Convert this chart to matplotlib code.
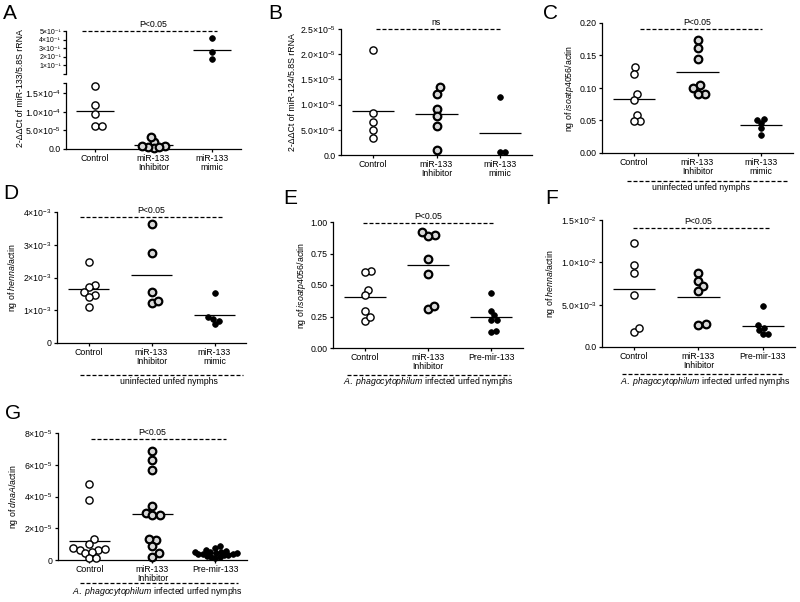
import numpy as np
import matplotlib.pyplot as plt
from matplotlib.lines import Line2D

plt.rcParams['font.family'] = ['Liberation Sans', 'DejaVu Sans']
plt.rcParams['mathtext.fontset'] = 'custom'
plt.rcParams['mathtext.rm'] = 'Liberation Sans'
plt.rcParams['mathtext.it'] = 'Liberation Sans:italic'
plt.rcParams['mathtext.bf'] = 'Liberation Sans:bold'

# =========================
# DATA
# =========================
groups_mimic = ["Control", "miR-133\nInhibitor", "miR-133\nmimic"]
groups_pre = ["Control", "miR-133\nInhibitor", "Pre-mir-133"]

a_control = [1.68e-4, 1.18e-4, 0.94e-4, 0.61e-4, 0.63e-4]
a_inhib = [1.8e-5, 3.1e-5, 0.8e-5, 0.2e-5, 0.6e-5, 0.6e-5, 0.9e-5]
a_mimic = [0.42, 0.255, 0.17]
a_low_ticks = [0, 5e-5, 1e-4, 1.5e-4]
a_low_labels = ["0.0", "5.0×10$^{-5}$", "1.0×10$^{-4}$", "1.5×10$^{-4}$"]
a_up_ticks = [0.1, 0.2, 0.3, 0.4, 0.5]
a_up_labels = ["1×10⁻¹", "2×10⁻¹", "3×10⁻¹", "4×10⁻¹", "5×10⁻¹"]

b_control = [2.08e-5, 0.83e-5, 0.65e-5, 0.50e-5, 0.34e-5]
b_inhib = [1.22e-5, 1.34e-5, 0.92e-5, 0.77e-5, 0.58e-5, 0.10e-5]
b_mimic = [1.16e-5, 0.065e-5, 0.065e-5]
b_ticks = [0, 0.5e-5, 1.0e-5, 1.5e-5, 2.0e-5, 2.5e-5]
b_labels = ["0.0", "5.0×10$^{-6}$", "1.0×10$^{-5}$", "1.5×10$^{-5}$",
            "2.0×10$^{-5}$", "2.5×10$^{-5}$"]

c_control = [0.132, 0.122, 0.091, 0.082, 0.058, 0.049, 0.049]
c_inhib = [0.174, 0.162, 0.145, 0.105, 0.100, 0.091, 0.091]
c_mimic = [0.051, 0.053, 0.046, 0.038, 0.027]
c_ticks = [0, 0.05, 0.10, 0.15, 0.20]
c_labels = ["0.00", "0.05", "0.10", "0.15", "0.20"]

d_control = [2.48e-3, 1.77e-3, 1.72e-3, 1.47e-3, 1.55e-3, 1.39e-3, 1.11e-3]
d_inhib = [3.62e-3, 2.74e-3, 1.55e-3, 1.22e-3, 1.29e-3]
d_mimic = [1.54e-3, 0.73e-3, 0.58e-3, 0.68e-3, 0.78e-3]
d_ticks = [0, 1e-3, 2e-3, 3e-3, 4e-3]
d_labels = ["0", "1×10$^{-3}$", "2×10$^{-3}$", "3×10$^{-3}$", "4×10$^{-3}$"]

e_control = [0.608, 0.603, 0.463, 0.418, 0.296, 0.212, 0.246]
e_inhib = [0.894, 0.889, 0.921, 0.704, 0.590, 0.307, 0.333]
e_pre = [0.439, 0.294, 0.259, 0.222, 0.222, 0.127, 0.132]
e_ticks = [0, 0.25, 0.5, 0.75, 1.0]
e_labels = ["0.00", "0.25", "0.50", "0.75", "1.00"]

f_control = [1.224e-2, 0.967e-2, 0.876e-2, 0.612e-2, 0.178e-2, 0.225e-2]
f_inhib = [0.876e-2, 0.778e-2, 0.722e-2, 0.659e-2, 0.264e-2, 0.272e-2]
f_pre = [0.482e-2, 0.257e-2, 0.197e-2, 0.225e-2, 0.150e-2, 0.150e-2]
f_ticks = [0, 0.5e-2, 1.0e-2, 1.5e-2]
f_labels = ["0.0", "5.0×10$^{-3}$", "1.0×10$^{-2}$", "1.5×10$^{-2}$"]

g_control = [4.8e-5, 3.75e-5, 1.31e-5, 0.76e-5, 0.63e-5, 0.63e-5, 0.69e-5,
             1.03e-5, 0.42e-5, 0.52e-5, 0.1e-5, 0.1e-5]
g_inhib = [6.88e-5, 6.32e-5, 5.68e-5, 3.41e-5, 2.95e-5, 2.84e-5, 2.84e-5,
           1.26e-5, 1.31e-5, 0.88e-5, 0.42e-5, 0.21e-5]
g_pre = [0.88e-5, 0.78e-5, 0.6e-5, 0.55e-5, 0.52e-5, 0.5e-5, 0.48e-5, 0.45e-5,
         0.42e-5, 0.4e-5, 0.38e-5, 0.35e-5, 0.32e-5, 0.3e-5, 0.25e-5, 0.22e-5,
         0.2e-5, 0.15e-5]
g_ticks = [0, 2e-5, 4e-5, 6e-5, 8e-5]
g_labels = ["0", "2×10$^{-5}$", "4×10$^{-5}$", "6×10$^{-5}$", "8×10$^{-5}$"]

# =========================
# HELPERS
# =========================
W, H = 800, 602
FS = 6.3
fig = plt.figure(figsize=(8, 6.02), dpi=100)

MARK = {
    "open": dict(s=27, facecolor="white", edgecolor="black", linewidths=1.0, d=6.6),
    "grey": dict(s=30, facecolor="#d8d8d8", edgecolor="black", linewidths=1.6, d=7.2),
    "fill": dict(s=17, facecolor="black", edgecolor="black", linewidths=0.5, d=5.2),
}


def px_axes(l, t, r, b):
    return fig.add_axes([l / W, 1 - b / H, (r - l) / W, (b - t) / H])


def style(ax, ylim, ticks, labels):
    for s in ("top", "right"):
        ax.spines[s].set_visible(False)
    ax.spines["left"].set_linewidth(0.9)
    ax.spines["bottom"].set_linewidth(0.9)
    ax.tick_params(length=2.5, width=0.9, labelsize=FS, pad=1.2)
    ax.set_xlim(-0.5, 2.5)
    ax.set_ylim(*ylim)
    ax.set_yticks(ticks, labels)


def swarm(ax, values, d):
    pts = ax.transData.transform(np.column_stack([np.zeros(len(values)), values]))
    ys = pts[:, 1]
    x0, x1 = ax.transData.transform([[0, 0], [1, 0]])[:, 0]
    unit = x1 - x0
    offs = np.zeros(len(values))
    placed = []
    for i in np.argsort(ys):
        cands = [0.0]
        for j in placed:
            dy = ys[i] - ys[j]
            if abs(dy) < d:
                dx = np.sqrt(d * d - dy * dy)
                cands += [offs[j] + dx, offs[j] - dx]
        cands.sort(key=lambda c: (round(abs(c), 6), -c))
        for c in cands:
            ok = True
            for j in placed:
                if (c - offs[j]) ** 2 + (ys[i] - ys[j]) ** 2 < d * d - 1e-6:
                    ok = False
                    break
            if ok:
                offs[i] = c
                break
        placed.append(i)
    return offs / unit


def column(ax, i, values, kind, d=None):
    st = MARK[kind]
    offs = swarm(ax, values, d or st["d"])
    ax.scatter(i + offs, values, s=st["s"], facecolor=st["facecolor"],
               edgecolor=st["edgecolor"], linewidths=st["linewidths"],
               zorder=3, clip_on=False)
    m = np.mean(values)
    ax.plot([i - 0.33, i + 0.33], [m, m], color="black", lw=0.9, zorder=2,
            solid_capstyle="butt")


def set_groups(ax, groups):
    ax.set_xticks([0, 1, 2], groups)
    for t in ax.get_xticklabels():
        t.set_linespacing(1.0)


def signif(ax, x0, x1, y, txt):
    ax.plot([x0, x1], [y, y], color="black", lw=0.9, dashes=(3.2, 1.6),
            clip_on=False)
    ax.annotate(txt, (1, y), xytext=(0, 1.5), textcoords="offset points",
                ha="center", va="bottom", fontsize=FS)


def group_note(x0, x1, y, tx, txt, gap=7):
    fig.add_artist(Line2D([x0 / W, x1 / W], [1 - y / H, 1 - y / H],
                          transform=fig.transFigure, color="black", lw=0.9,
                          dashes=(3.2, 1.6)))
    fig.text(tx / W, 1 - (y + gap) / H, txt, ha="center", va="center", fontsize=FS)


def letter(x, y, s):
    fig.text(x / W, 1 - y / H, s, ha="left", va="top", fontsize=15)


INF = r"$\it{A.\ phagocytophilum}$ infected unfed nymphs"

# =========================
# A (eje partido)
# =========================
ax_up = px_axes(66, 31, 241, 74)
style(ax_up, (0, 0.5), a_up_ticks + [0], a_up_labels + [""])
ax_up.tick_params(axis="y", labelsize=5.0, pad=1.0)
ax_up.spines["bottom"].set_visible(False)
ax_up.set_xticks([])
ax_lo = px_axes(66, 83, 241, 149)
style(ax_lo, (0, 1.77e-4), a_low_ticks + [1.77e-4], a_low_labels + [""])
set_groups(ax_lo, groups_mimic)
column(ax_lo, 0, a_control, "open")
column(ax_lo, 1, a_inhib, "grey", d=6.0)
column(ax_up, 2, a_mimic, "fill")
signif(ax_up, -0.23, 2.09, 0.5, "P<0.05")
fig.text(21 / W, 1 - 88 / H, "2-ΔΔCt of miR-133/5.8S rRNA", rotation=90,
         ha="center", va="center", fontsize=FS)
letter(3, 4, "A")

# =========================
# B
# =========================
ax = px_axes(341, 29, 532, 155)
style(ax, (0, 2.5e-5), b_ticks, b_labels)
set_groups(ax, groups_mimic)
column(ax, 0, b_control, "open")
column(ax, 1, b_inhib, "grey")
column(ax, 2, b_mimic, "fill")
signif(ax, 0.05, 2.01, 2.5e-5, "ns")
ax.set_ylabel("2-ΔΔCt of miR-124/5.8S rRNA", fontsize=FS, labelpad=2)
letter(268, 4, "B")

# =========================
# C
# =========================
ax = px_axes(602, 23, 793, 153)
style(ax, (0, 0.2), c_ticks, c_labels)
set_groups(ax, groups_mimic)
column(ax, 0, c_control, "open")
column(ax, 1, c_inhib, "grey")
column(ax, 2, c_mimic, "fill")
signif(ax, 0.1, 2.01, 0.19, "P<0.05")
ax.set_ylabel(r"ng of $\it{isoatp4056}$/actin", fontsize=FS, labelpad=3)
group_note(627, 788, 181, 701, "uninfected unfed nymphs")
letter(543, 4, "C")

# =========================
# D
# =========================
ax = px_axes(57, 212, 246, 343)
style(ax, (0, 4e-3), d_ticks, d_labels)
set_groups(ax, groups_mimic)
column(ax, 0, d_control, "open")
column(ax, 1, d_inhib, "grey")
column(ax, 2, d_mimic, "fill")
signif(ax, -0.13, 2.13, 3.85e-3, "P<0.05")
ax.set_ylabel(r"ng of $\it{henna}$/actin", fontsize=FS, labelpad=3)
group_note(80, 243, 375, 169, "uninfected unfed nymphs")
letter(3, 184, "D")

# =========================
# E
# =========================
ax = px_axes(333, 222, 523, 348)
style(ax, (0, 1.0), e_ticks, e_labels)
set_groups(ax, groups_pre)
column(ax, 0, e_control, "open")
column(ax, 1, e_inhib, "grey")
column(ax, 2, e_pre, "fill")
signif(ax, -0.03, 2.02, 0.995, "P<0.05")
ax.set_ylabel(r"ng of $\it{isoatp4056}$/actin", fontsize=FS, labelpad=2)
group_note(347, 510, 375, 428, INF)
letter(283, 189, "E")

# =========================
# F
# =========================
ax = px_axes(602, 220, 795, 347)
style(ax, (0, 1.5e-2), f_ticks, f_labels)
set_groups(ax, groups_pre)
column(ax, 0, f_control, "open")
column(ax, 1, f_inhib, "grey")
column(ax, 2, f_pre, "fill")
signif(ax, -0.02, 2.1, 1.4e-2, "P<0.05")
ax.set_ylabel(r"ng of $\it{henna}$/actin", fontsize=FS, labelpad=3)
group_note(622, 783, 374, 705, INF)
letter(545, 189, "F")

# =========================
# G
# =========================
ax = px_axes(58, 433, 247, 560)
style(ax, (0, 8e-5), g_ticks, g_labels)
set_groups(ax, groups_pre)
column(ax, 0, g_control, "open")
column(ax, 1, g_inhib, "grey")
column(ax, 2, g_pre, "fill", d=4.4)
signif(ax, 0.03, 2.17, 7.6e-5, "P<0.05")
ax.set_ylabel(r"ng of $\it{dnaA}$/actin", fontsize=FS, labelpad=3)
group_note(80, 238, 583, 157, INF, gap=9)
letter(5, 404, "G")

fig.savefig("out.png", dpi=100)
